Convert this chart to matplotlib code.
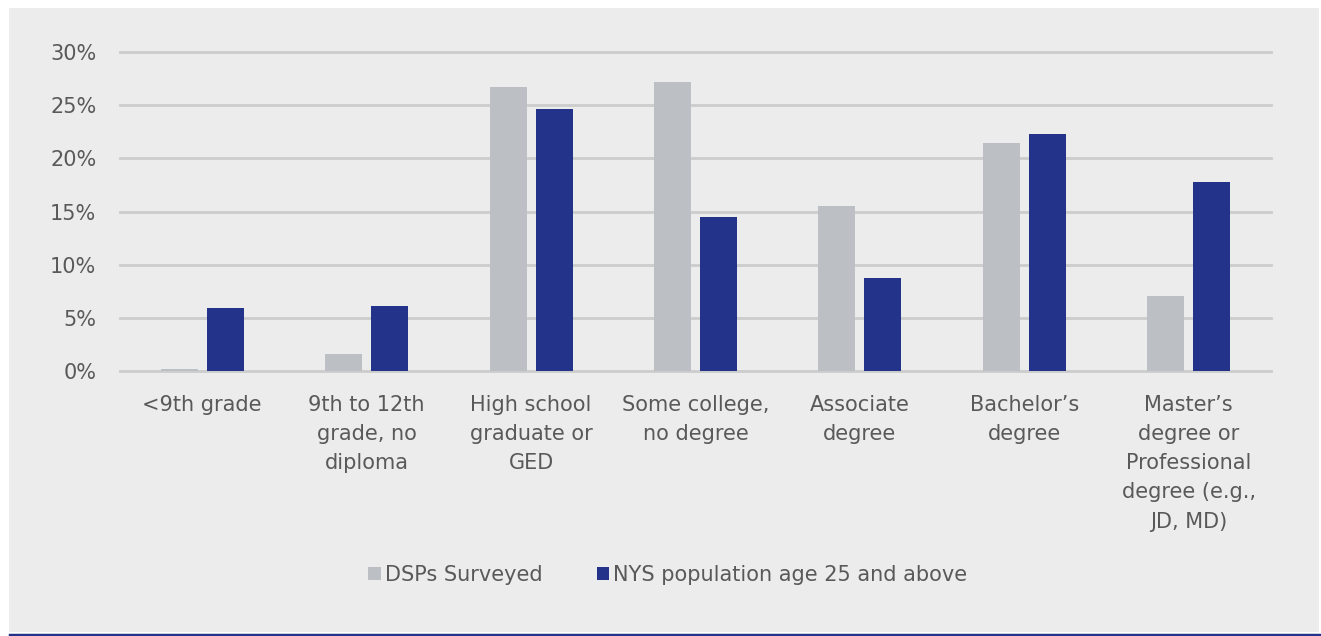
import numpy as np
import matplotlib.pyplot as plt
from matplotlib.patches import Rectangle
from matplotlib.lines import Line2D
from matplotlib.ticker import FuncFormatter

categories = ["<9th grade", "9th to 12th\ngrade, no\ndiploma", "High school\ngraduate or\nGED",
              "Some college,\nno degree", "Associate\ndegree", "Bachelor\u2019s\ndegree",
              "Master\u2019s\ndegree or\nProfessional\ndegree (e.g.,\nJD, MD)"]
dsp_values = [0.2, 1.6, 26.7, 27.2, 15.5, 21.4, 7.1]
nys_values = [5.9, 6.1, 24.6, 14.5, 8.7, 22.3, 17.8]
series_names = ["DSPs Surveyed", "NYS population age 25 and above"]

gray = "#bcc0c4"
navy = "#24338a"
text_col = "#595959"

plt.rcParams['font.family'] = ['DejaVu Sans']

W, H = 1321, 636
fig = plt.figure(figsize=(W / 100, H / 100), dpi=100, facecolor="white")

# gray panel and blue rule at the bottom
fig.patches.append(Rectangle((9 / W, 1 - 632 / H), 1310 / W, 624 / H, transform=fig.transFigure,
                             facecolor="#ececec", edgecolor="none", zorder=-5))
fig.lines.append(Line2D([10 / W, 1], [1 - 634.5 / H] * 2, transform=fig.transFigure,
                        color=navy, lw=2.5, zorder=1))

ax = fig.add_axes([120 / W, 1 - 371 / H, 1151 / W, 319 / H], zorder=2)
ax.set_facecolor("none")

x = np.arange(len(categories))
ax.bar(x - 0.14, dsp_values, width=0.225, color=gray, label=series_names[0], zorder=3)
ax.bar(x + 0.14, nys_values, width=0.225, color=navy, label=series_names[1], zorder=3)

ax.set_xlim(-0.5, len(categories) - 0.5)
ax.set_ylim(0, 30)
ax.set_yticks(np.arange(0, 31, 5))
ax.yaxis.set_major_formatter(FuncFormatter(lambda v, p: f"{v:.0f}%"))
ax.grid(axis="y", color="#cccccc", lw=2, zorder=0)
for gl in ax.get_ygridlines():
    gl.set_clip_on(False)
ax.set_axisbelow(True)
for s in ax.spines.values():
    s.set_visible(False)

ax.set_xticks(x)
ax.set_xticklabels(categories, fontsize=15, color=text_col, linespacing=1.58, va="top")
ax.tick_params(axis="x", length=0, pad=17)
ax.tick_params(axis="y", length=0, pad=17, labelsize=15, labelcolor=text_col)

leg = fig.legend(loc="center", bbox_to_anchor=(668 / W, 1 - 575 / H), ncol=2, frameon=False,
                 fontsize=15, handlelength=0.6, handleheight=0.6, handletextpad=0.2,
                 columnspacing=2.6)
for t in leg.get_texts():
    t.set_color(text_col)

fig.savefig("out.png", dpi=100, facecolor="white")
